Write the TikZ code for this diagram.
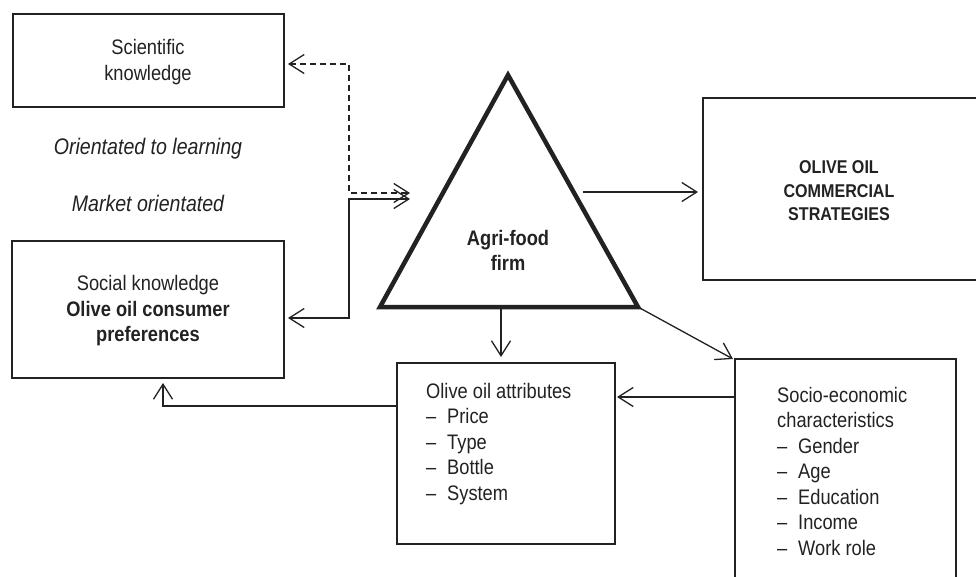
\documentclass[tikz,border=0pt]{standalone}
\usepackage{fontspec}
\setmainfont{Liberation Sans}[FakeStretch=0.87]
\usetikzlibrary{arrows.meta}
\definecolor{ink}{HTML}{222222}
\begin{document}
\begin{tikzpicture}[x=1pt,y=-1pt,
  box/.style={draw=ink, line width=1.3pt, inner sep=0pt},
  txt/.style={text=ink, inner sep=0pt, font=\fontsize{21}{25.5}\selectfont},
  tip/.tip={Straight Barb[length=15pt,width=19pt]},
  conn/.style={draw=ink, line width=1.3pt, -tip},
  dconn/.style={draw=ink, line width=1.3pt, tip-tip},
]
\useasboundingbox (0,0) rectangle (976,576);
\fill[white] (0,0) rectangle (976,576);
\clip (0,0) rectangle (976,576);

% boxes
\node[box, minimum width=271pt, minimum height=93pt] (sci) at (148.5,60.5) {};
\node[box, minimum width=272pt, minimum height=137pt] (soc) at (148,309.5) {};
\node[box, minimum width=274pt, minimum height=182pt] (com) at (840,189) {};
\node[box, minimum width=218pt, minimum height=181pt] (att) at (506,453.5) {};
\node[box, minimum width=221pt, minimum height=231pt] (sec) at (845.5,474.5) {};

% triangle
\coordinate (apex) at (508,75);
\coordinate (tl) at (380,307);
\coordinate (tr) at (638,307);
\draw[draw=ink, line width=4.5pt, line join=miter] (apex) -- (tl) -- (tr) -- cycle;

% texts
\node[txt, align=center] (scitxt) at (148,62) {Scientific\\knowledge};
\node[txt, font=\fontsize{22.5}{26}\selectfont\itshape] (learn) at (148,149) {Orientated to learning};
\node[txt, font=\fontsize{22.5}{26}\selectfont\itshape] (market) at (148,203) {Market orientated};
\node[txt, align=center] (soctxt) at (148,311) {Social knowledge\\\textbf{Olive oil consumer}\\\textbf{preferences}};
\node[txt, align=center, font=\fontsize{21}{25}\selectfont\bfseries] (firm) at (508,250) {Agri-food\\firm};
\node[txt, align=center, font=\fontsize{18.5}{23.5}\selectfont\bfseries] (comtxt) at (839,191) {OLIVE OIL\\COMMERCIAL\\STRATEGIES};
\node[txt, align=left, anchor=west] (atttxt) at (426,444) {Olive oil attributes\\
\makebox[21pt][l]{--}Price\\
\makebox[21pt][l]{--}Type\\
\makebox[21pt][l]{--}Bottle\\
\makebox[21pt][l]{--}System};
\node[txt, align=left, anchor=west] (sectxt) at (777,471) {Socio-economic\\characteristics\\
\makebox[21pt][l]{--}Gender\\
\makebox[21pt][l]{--}Age\\
\makebox[21pt][l]{--}Education\\
\makebox[21pt][l]{--}Income\\
\makebox[21pt][l]{--}Work role};

% connector points
\coordinate (d1) at (288,64);
\coordinate (d2) at (349,64);
\coordinate (d3) at (349,193);
\coordinate (d4) at (410,193);
\coordinate (s1) at (288,318);
\coordinate (s2) at (349,318);
\coordinate (s3) at (349,199);
\coordinate (s4) at (410,199);
\coordinate (c1) at (583,192);
\coordinate (c2) at (698,192);
\coordinate (b1) at (501,307);
\coordinate (b2) at (501,357);
\coordinate (g2) at (733,359);
\coordinate (e1) at (sec.west |- 0,397);
\coordinate (e2) at (617,397);
\coordinate (a1) at (att.west |- 0,406);
\coordinate (a2) at (163,406);
\coordinate (a3) at (163,383);

% connectors
\draw[dconn, dash pattern=on 6pt off 4pt] (d1) -- (d2) -- (d3) -- (d4);
\draw[dconn] (s1) -- (s2) -- (s3) -- (s4);
\draw[conn] (c1) -- (c2);
\draw[draw=ink, line width=2.6pt] (c1) -- ++(6,0);
\draw[conn] (b1) -- (b2);
\draw[conn] (tr) -- (g2);
\draw[conn] (e1) -- (e2);
\draw[conn] (a1) -- (a2) -- (a3);
\end{tikzpicture}
\end{document}
